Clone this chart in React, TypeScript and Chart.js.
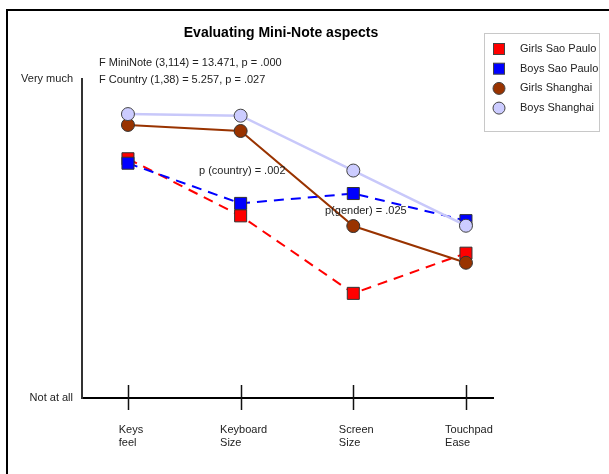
import React, { useEffect, useRef } from "react";
import { Chart, registerables } from "chart.js";

Chart.register(...registerables);

const categories: string[][] = [
  ["Keys", "feel"],
  ["Keyboard", "Size"],
  ["Screen", "Size"],
  ["Touchpad", "Ease"],
];
const seriesNames = ["Girls Sao Paulo", "Boys Sao Paulo", "Girls Shanghai", "Boys Shanghai"];
const girlsSaoPaulo = [7.5, 5.71, 3.28, 4.54];
const boysSaoPaulo = [7.36, 6.1, 6.41, 5.56];
const girlsShanghai = [8.56, 8.37, 5.39, 4.24];
const boysShanghai = [8.9, 8.85, 7.13, 5.4];
const yTickValues = [0, 10];
const yTickLabels = ["Not at all", "Very much"];
const titleText = "Evaluating Mini-Note aspects";
const statLines = ["F MiniNote (3,114) = 13.471, p = .000", "F Country (1,38) = 5.257, p = .027"];
const countryNote = "p (country) = .002";
const genderNote = "p(gender) = .025";

const FONT = "'Liberation Sans', Arial, Helvetica, sans-serif";

export default function App() {
  const ref = useRef<HTMLCanvasElement | null>(null);

  useEffect(() => {
    const canvas = ref.current;
    if (!canvas) return;
    Chart.defaults.font.family = FONT;
    document.body.style.margin = "0";

    const toPts = (arr: number[]) => arr.map((v, i) => ({ x: i + 1, y: v }));

    const datasets: any[] = [
      {
        label: seriesNames[0],
        data: toPts(girlsSaoPaulo),
        borderColor: "#FF0000",
        backgroundColor: "#FF0000",
        borderWidth: 2,
        borderDash: [10, 7],
        pointStyle: "rect",
        pointRadius: 8.5,
        pointBackgroundColor: "#FF0000",
        pointBorderColor: "#333333",
        pointBorderWidth: 1,
        order: 3,
        _legendShape: "rect",
      },
      {
        label: seriesNames[1],
        data: toPts(boysSaoPaulo),
        borderColor: "#0000FF",
        backgroundColor: "#0000FF",
        borderWidth: 2,
        borderDash: [10, 7],
        pointStyle: "rect",
        pointRadius: 8.5,
        pointBackgroundColor: "#0000FF",
        pointBorderColor: "#333333",
        pointBorderWidth: 1,
        order: 2,
        _legendShape: "rect",
      },
      {
        label: seriesNames[2],
        data: toPts(girlsShanghai),
        borderColor: "#993300",
        backgroundColor: "#993300",
        borderWidth: 2,
        pointStyle: "circle",
        pointRadius: 6.5,
        pointBackgroundColor: "#993300",
        pointBorderColor: "#333333",
        pointBorderWidth: 1,
        order: 1,
        _legendShape: "circle",
      },
      {
        label: seriesNames[3],
        data: toPts(boysShanghai),
        borderColor: "#C8C8FA",
        backgroundColor: "#CCCCFF",
        borderWidth: 2.5,
        pointStyle: "circle",
        pointRadius: 6.5,
        pointBackgroundColor: "#CCCCFF",
        pointBorderColor: "#444444",
        pointBorderWidth: 1,
        order: 0,
        _legendShape: "circle",
      },
    ];

    const decor = {
      id: "decor",
      beforeDraw(chart: any) {
        const ctx = chart.ctx;
        ctx.save();
        ctx.fillStyle = "#ffffff";
        ctx.fillRect(0, 0, chart.width, chart.height);
        ctx.fillStyle = "#000000";
        ctx.fillRect(6, 9, chart.width - 6, 2);
        ctx.fillRect(6, 9, 2, chart.height - 9);
        ctx.restore();
      },
      afterDraw(chart: any) {
        const ctx = chart.ctx;
        const xs = chart.scales.x;
        const ys = chart.scales.y;
        const axisY = ys.getPixelForValue(0);
        ctx.save();
        ctx.strokeStyle = "#111111";
        ctx.lineWidth = 1.5;
        categories.forEach((_, i) => {
          const px = Math.round(xs.getPixelForValue(i + 1)) + 0.5;
          ctx.beginPath();
          ctx.moveTo(px, axisY - 13);
          ctx.lineTo(px, axisY + 12);
          ctx.stroke();
        });
        ctx.font = `11px ${FONT}`;
        ctx.fillStyle = "#222222";
        ctx.textBaseline = "middle";
        ctx.textAlign = "left";
        categories.forEach((lines, i) => {
          const px = xs.getPixelForValue(i + 1);
          const w = Math.max(...lines.map((l) => ctx.measureText(l).width));
          const left = px + 3 - w / 2;
          lines.forEach((l, j) => ctx.fillText(l, left, axisY + 32 + j * 13));
        });
        ctx.font = `bold 14px ${FONT}`;
        ctx.fillStyle = "#000000";
        ctx.textAlign = "center";
        ctx.fillText(titleText, 281, 33);
        ctx.font = `11px ${FONT}`;
        ctx.fillStyle = "#222222";
        ctx.textAlign = "left";
        statLines.forEach((t, j) => ctx.fillText(t, 99, 63 + j * 17));
        ctx.fillText(countryNote, 199, 171);
        ctx.fillText(genderNote, 325, 211);
        ctx.strokeStyle = "#c8c8c8";
        ctx.lineWidth = 1;
        ctx.strokeRect(484.5, 33.5, 115, 98);
        chart.data.datasets.forEach((ds: any, i: number) => {
          const cy = 49 + i * 19.7;
          const cx = 499;
          ctx.fillStyle = ds.pointBackgroundColor;
          ctx.strokeStyle = "#444444";
          ctx.lineWidth = 1;
          if (ds._legendShape === "rect") {
            ctx.fillRect(cx - 5.5, cy - 5.5, 11, 11);
            ctx.strokeRect(cx - 5.5, cy - 5.5, 11, 11);
          } else {
            ctx.beginPath();
            ctx.arc(cx, cy, 6, 0, Math.PI * 2);
            ctx.fill();
            ctx.stroke();
          }
          ctx.fillStyle = "#222222";
          ctx.font = `11px ${FONT}`;
          ctx.textAlign = "left";
          ctx.fillText(ds.label, 520, cy);
        });
        ctx.fillStyle = "#ffffff";
        ctx.fillRect(601, 12, 8, chart.height - 12);
        ctx.restore();
      },
    };

    const chart = new Chart(canvas, {
      type: "line",
      data: { datasets },
      options: {
        responsive: false,
        animation: false,
        layout: { padding: { left: 0, right: 116, top: 79, bottom: 56 } },
        plugins: {
          legend: { display: false },
          title: { display: false },
          tooltip: { enabled: false },
        },
        scales: {
          x: {
            type: "linear",
            min: 0.592,
            max: 4.24,
            afterBuildTicks: (s: any) => {
              s.ticks = categories.map((_, i) => ({ value: i + 1 }));
            },
            afterFit: (s: any) => {
              s.height = 20;
            },
            grid: { display: false, drawTicks: false },
            border: { display: true, color: "#000000", width: 2 },
            ticks: { display: false },
          },
          y: {
            type: "linear",
            min: 0,
            max: 10,
            afterBuildTicks: (s: any) => {
              s.ticks = yTickValues.map((v) => ({ value: v }));
            },
            afterFit: (s: any) => {
              s.width = 82;
            },
            grid: { display: false, drawTicks: false },
            border: { display: true, color: "#333333", width: 2 },
            ticks: {
              padding: 9,
              color: "#222222",
              font: { size: 11, family: FONT },
              callback: (v: any) => {
                const idx = yTickValues.indexOf(Number(v));
                return idx >= 0 ? yTickLabels[idx] : "";
              },
            },
          },
        },
      } as any,
      plugins: [decor],
    });

    return () => chart.destroy();
  }, []);

  return (
    <div style={{ position: "absolute", left: 0, top: 0, width: 609, height: 474, background: "#fff", overflow: "hidden" }}>
      <canvas ref={ref} width={609} height={474} style={{ display: "block" }} />
    </div>
  );
}
